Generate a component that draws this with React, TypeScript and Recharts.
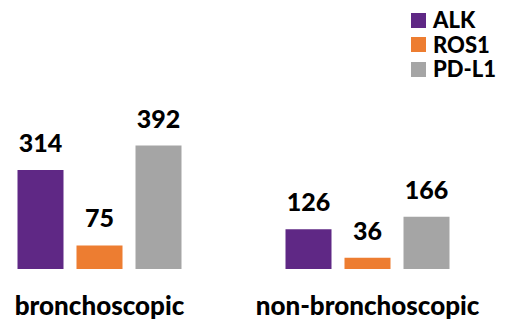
import { Bar, BarChart, LabelList, XAxis, YAxis } from "recharts";

const categories = ["bronchoscopic", "non-bronchoscopic"];
const alk = [314, 126];
const ros1 = [75, 36];
const pdl1 = [392, 166];

const series = [
  { key: "alk", name: "ALK", color: "#5f2885" },
  { key: "ros1", name: "ROS1", color: "#ed7d31" },
  { key: "pdl1", name: "PD-L1", color: "#a5a5a5" },
];

const data = categories.map((c, i) => ({ name: c, alk: alk[i], ros1: ros1[i], pdl1: pdl1[i] }));

const FONT = "Lato, 'Open Sans', sans-serif";

function CatTick({ x, y, payload }: any) {
  return (
    <text x={x} y={y + 46} textAnchor="middle" fontFamily={FONT} fontWeight={900} fontSize={26} fill="#000">
      {payload.value}
    </text>
  );
}

export default function App() {
  return (
    <div style={{ position: "absolute", left: 0, top: 0, width: 522, height: 322, background: "#fff", fontFamily: FONT }}>
      <BarChart
        width={522}
        height={322}
        data={data}
        margin={{ top: 48.5, right: 20.5, bottom: 0, left: -34.5 }}
        barSize={46}
        barGap={13}
      >
        <XAxis
          dataKey="name"
          axisLine={false}
          tickLine={false}
          tickSize={0}
          tickMargin={0}
          height={53}
          interval={0}
          tick={<CatTick />}
        />
        <YAxis hide domain={[0, 700]} />
        {series.map((s) => (
          <Bar key={s.key} dataKey={s.key} name={s.name} fill={s.color} isAnimationActive={false}>
            <LabelList
              dataKey={s.key}
              position="top"
              offset={18}
              fill="#000"
              fontFamily={FONT}
              fontWeight={900}
              fontSize={25}
            />
          </Bar>
        ))}
      </BarChart>
      <div style={{ position: "absolute", left: 411, top: 8 }}>
        {series.map((s) => (
          <div key={s.key} style={{ display: "flex", alignItems: "center", height: 24.5 }}>
            <span style={{ display: "inline-block", width: 15, height: 15, background: s.color, marginRight: 7 }} />
            <span style={{ fontWeight: 900, fontSize: 22, lineHeight: "24px", color: "#000" }}>{s.name}</span>
          </div>
        ))}
      </div>
    </div>
  );
}
